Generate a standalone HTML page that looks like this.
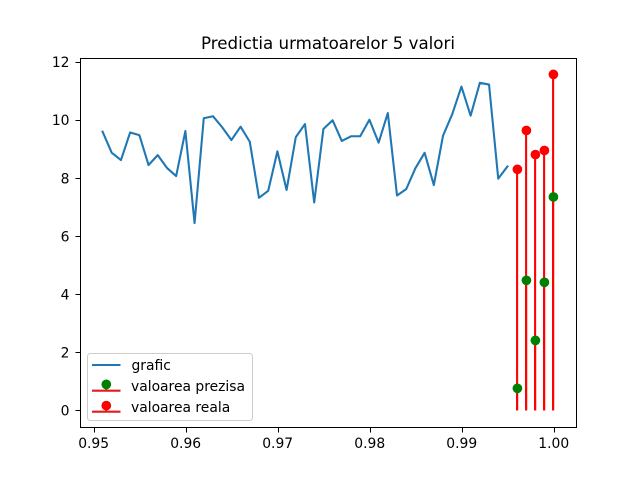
<!DOCTYPE html>
<html>
<head>
<meta charset="utf-8">
<style>
html,body{margin:0;padding:0;background:#fff;}
svg{display:block;font-family:"DejaVu Sans",sans-serif;}
</style>
</head>
<body>
<svg id="chart" xmlns="http://www.w3.org/2000/svg" width="640" height="480" viewBox="0 0 640 480">
  <rect x="0" y="0" width="640" height="480" fill="#fff"/>
  <text x="328" y="49" font-size="16.67" text-anchor="middle" fill="#000">Predictia urmatoarelor 5 valori</text>
  <g id="stems"></g>
  <g id="series"></g>
  <g id="markers"></g>
  <g id="axes"></g>
  <g>
    <rect x="87.5" y="353.5" width="165" height="67" rx="2.8" fill="#fff" fill-opacity="0.8" stroke="#ccc" stroke-width="1"/>
    <line x1="92" y1="365" x2="120.5" y2="365" stroke="#1f77b4" stroke-width="2.08"/>
    <text x="131.5" y="370" font-size="13.89" fill="#000">grafic</text>
    <line x1="92" y1="390.7" x2="120.5" y2="390.7" stroke="#e41a1c" stroke-width="2.08"/>
    <line x1="106.3" y1="390.7" x2="106.3" y2="385" stroke="#e41a1c" stroke-width="2.08"/>
    <circle cx="106.3" cy="384.4" r="4.86" fill="#008000"/>
    <text x="131" y="391" font-size="13.89" fill="#000">valoarea prezisa</text>
    <line x1="92" y1="411.7" x2="120.5" y2="411.7" stroke="#e41a1c" stroke-width="2.08"/>
    <line x1="106.3" y1="411.7" x2="106.3" y2="406" stroke="#e41a1c" stroke-width="2.08"/>
    <circle cx="106.3" cy="405.6" r="4.86" fill="#ff0000"/>
    <text x="131" y="412" font-size="13.89" fill="#000">valoarea reala</text>
  </g>
</svg>
<script>
var lineX = [0.951,0.952,0.953,0.954,0.955,0.956,0.957,0.958,0.959,0.960,0.961,0.962,0.963,0.964,0.965,0.966,0.967,0.968,0.969,0.970,0.971,0.972,0.973,0.974,0.975,0.976,0.977,0.978,0.979,0.980,0.981,0.982,0.983,0.984,0.985,0.986,0.987,0.988,0.989,0.990,0.991,0.992,0.993,0.994,0.995];
var lineValues = [9.60,8.87,8.62,9.57,9.48,8.45,8.79,8.35,8.07,9.62,6.45,10.06,10.13,9.75,9.31,9.77,9.25,7.32,7.56,8.92,7.59,9.41,9.86,7.16,9.69,9.99,9.28,9.44,9.44,10.01,9.22,10.24,7.40,7.62,8.34,8.87,7.76,9.46,10.20,11.15,10.15,11.28,11.22,7.98,8.40];
var stemX = [0.996,0.997,0.998,0.999,1.000];
var predictedValues = [0.76,4.48,2.41,4.41,7.35];
var realValues = [8.30,9.64,8.81,8.95,11.57];
var xTickValues = [0.95,0.96,0.97,0.98,0.99,1.00];
var xTickLabels = ["0.95","0.96","0.97","0.98","0.99","1.00"];
var yTickValues = [0,2,4,6,8,10,12];
var yTickLabels = ["0","2","4","6","8","10","12"];

var NS = "http://www.w3.org/2000/svg";
var plot = {left:80, right:576, top:57.6, bottom:427.2};
var xDomain = [0.94855, 1.00245];
var yDomain = [-0.5785, 12.1485];

function xScale(v){
  return plot.left + (v - xDomain[0]) / (xDomain[1] - xDomain[0]) * (plot.right - plot.left);
}
function yScale(v){
  return plot.bottom - (v - yDomain[0]) / (yDomain[1] - yDomain[0]) * (plot.bottom - plot.top);
}
function make(tag, attrs, parent){
  var el = document.createElementNS(NS, tag);
  for (var k in attrs) { el.setAttribute(k, attrs[k]); }
  parent.appendChild(el);
  return el;
}

var stems = document.getElementById("stems");
var series = document.getElementById("series");
var markers = document.getElementById("markers");
var axes = document.getElementById("axes");

function drawStems(values, label){
  values.forEach(function(v, i){
    var px = Math.round(xScale(stemX[i])) + 0.1;
    var s = make("line", {x1:px, x2:px, y1:yScale(0), y2:yScale(v), stroke:"#ff0000", "stroke-width":2.08}, stems);
    
    
  });
}
function drawMarkers(values, color, label){
  values.forEach(function(v, i){
    var c = make("circle", {cx:Math.round(xScale(stemX[i])) + 0.4, cy:yScale(v), r:4.86, fill:color}, markers);
    
    
  });
}

drawStems(predictedValues, 'prezisa');
drawStems(realValues, 'reala');

var pts = lineValues.map(function(v, i){ return xScale(lineX[i]).toFixed(2) + "," + yScale(v).toFixed(2); }).join(" ");
var poly = make("polyline", {points:pts, fill:"none", stroke:"#1f77b4", "stroke-width":2.08, "stroke-linejoin":"round", "stroke-linecap":"square"}, series);



drawMarkers(predictedValues, "#008000", 'prezisa');
drawMarkers(realValues, "#ff0000", 'reala');

var frame = make("rect", {x:80.5, y:58.5, width:496, height:369, fill:"none", stroke:"#000", "stroke-width":1.1, "shape-rendering":"crispEdges"}, axes);



xTickValues.forEach(function(v, i){
  var px = Math.round(xScale(v) + 0.2) + 0.5;
  var t = make("line", {x1:px, x2:px, y1:427.5, y2:432.5, stroke:"#000", "stroke-width":1.1, "shape-rendering":"crispEdges"}, axes);
  
  
  var l = make("text", {x:xScale(v) + 0.3, y:448, "font-size":13.89, "text-anchor":"middle", fill:"#000"}, axes);
  
  
  l.textContent = xTickLabels[i];
});
yTickValues.forEach(function(v, i){
  var py = Math.round(yScale(v)) + 0.5;
  var t = make("line", {x1:75.5, x2:80.5, y1:py, y2:py, stroke:"#000", "stroke-width":1.1, "shape-rendering":"crispEdges"}, axes);
  
  
  var l = make("text", {x:69.5, y:yScale(v) + 5.2, "font-size":13.89, "text-anchor":"end", fill:"#000"}, axes);
  
  
  l.textContent = yTickLabels[i];
});
</script>
</body>
</html>
